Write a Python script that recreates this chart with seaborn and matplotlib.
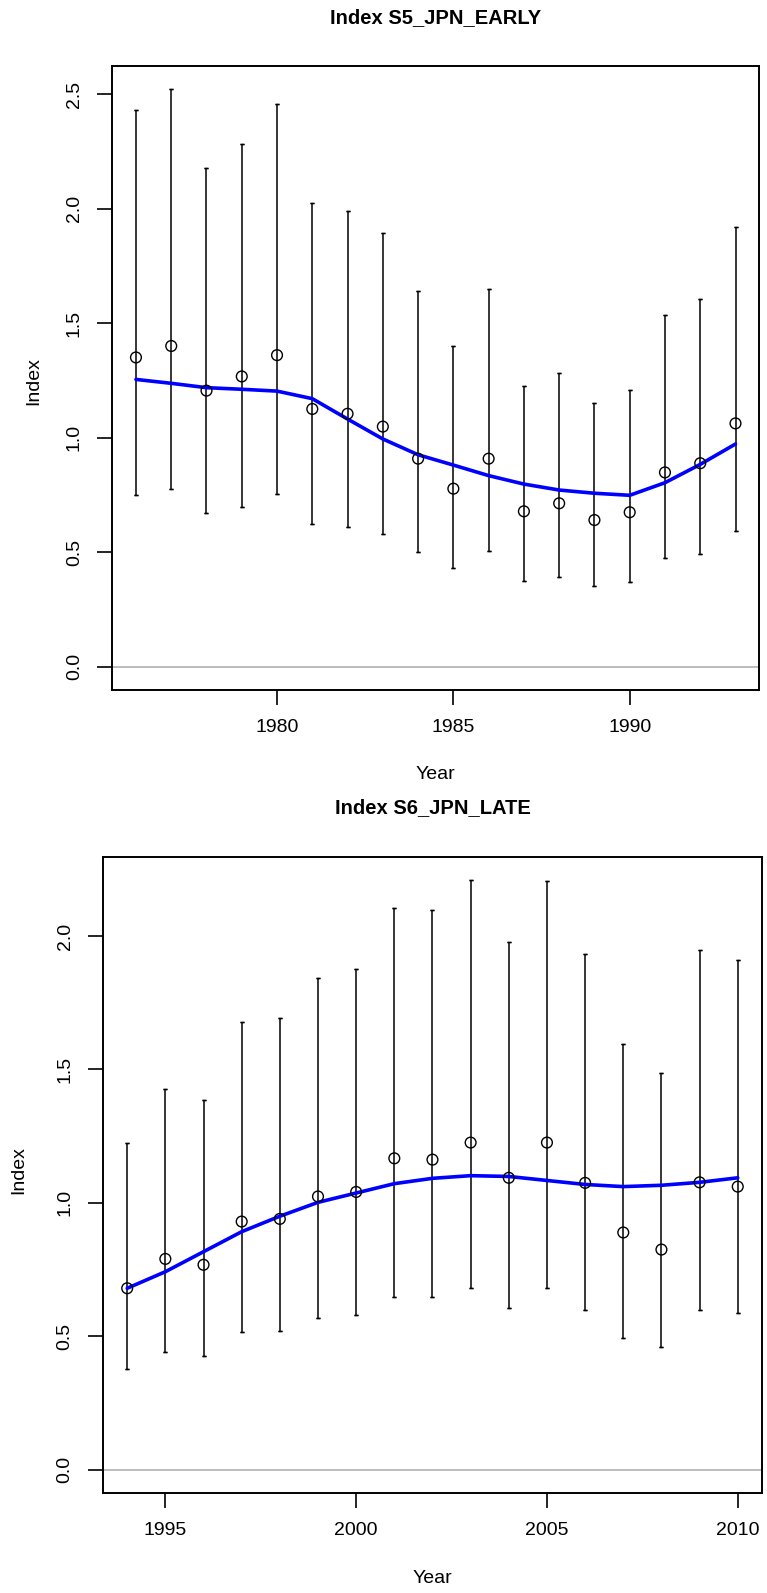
import numpy as np
import pandas as pd
import matplotlib
matplotlib.use("Agg")
import matplotlib.pyplot as plt
import seaborn as sns

# --- S5_JPN_EARLY ---
early_years = list(range(1976, 1994))
early_obs = [1.351, 1.401, 1.206, 1.268, 1.361, 1.126, 1.105, 1.049, 0.909,
             0.778, 0.909, 0.679, 0.714, 0.641, 0.675, 0.849, 0.889, 1.063]
early_lo = [0.750, 0.776, 0.673, 0.699, 0.755, 0.622, 0.612, 0.579, 0.503,
            0.433, 0.507, 0.375, 0.392, 0.353, 0.369, 0.477, 0.491, 0.592]
early_hi = [2.431, 2.523, 2.180, 2.284, 2.456, 2.024, 1.990, 1.893, 1.640,
            1.402, 1.650, 1.226, 1.283, 1.153, 1.210, 1.535, 1.608, 1.922]
early_fit = [1.255, 1.238, 1.219, 1.212, 1.204, 1.171, 1.082, 0.995, 0.926,
             0.881, 0.835, 0.798, 0.772, 0.758, 0.749, 0.804, 0.884, 0.973]

# --- S6_JPN_LATE ---
late_years = list(range(1994, 2011))
late_obs = [0.680, 0.790, 0.768, 0.930, 0.940, 1.024, 1.041, 1.167, 1.162,
            1.226, 1.094, 1.226, 1.075, 0.889, 0.825, 1.077, 1.061]
late_lo = [0.376, 0.440, 0.426, 0.515, 0.520, 0.569, 0.580, 0.646, 0.646,
           0.680, 0.606, 0.680, 0.599, 0.494, 0.459, 0.599, 0.588]
late_hi = [1.226, 1.426, 1.384, 1.677, 1.694, 1.844, 1.877, 2.104, 2.099,
           2.209, 1.977, 2.205, 1.934, 1.597, 1.486, 1.946, 1.909]
late_fit = [0.680, 0.742, 0.817, 0.892, 0.950, 1.002, 1.037, 1.072, 1.092,
            1.102, 1.099, 1.084, 1.069, 1.061, 1.066, 1.077, 1.094]

sns.set_style("white")
plt.rcParams['font.family'] = ['Liberation Sans', 'DejaVu Sans']
plt.rcParams.update({"text.color": "black", "axes.labelcolor": "black",
                     "xtick.color": "black", "ytick.color": "black"})

fig = plt.figure(figsize=(7.67, 15.93), dpi=100)
ax1 = fig.add_axes([0.1460, 0.5669, 0.8442, 0.3917])
ax2 = fig.add_axes([0.1340, 0.0626, 0.8597, 0.3996])


def index_panel(ax, years, obs, lo, hi, fit, title, yticks, xticks):
    df = pd.DataFrame({"Year": years, "obs": obs, "lo": lo, "hi": hi, "fit": fit})
    ax.axhline(0, color="#aaaaaa", lw=1.1, zorder=1)
    ax.vlines(df["Year"], df["lo"], df["hi"], color="black", lw=1.1, zorder=2)
    ax.errorbar(df["Year"], df["lo"], yerr=0, fmt="none", ecolor="black",
                capsize=1.2, capthick=1.0, zorder=2)
    ax.errorbar(df["Year"], df["hi"], yerr=0, fmt="none", ecolor="black",
                capsize=1.2, capthick=1.0, zorder=2)
    sns.lineplot(data=df, x="Year", y="fit", ax=ax, color="#0000ff", lw=2.6,
                 sort=True, zorder=3)
    sns.scatterplot(data=df, x="Year", y="obs", ax=ax, marker="o", s=60,
                    facecolor="none", edgecolor="black", linewidth=1.0, zorder=4)

    span = years[-1] - years[0]
    ax.set_xlim(years[0] - 0.04 * span, years[-1] + 0.04 * span)
    top = max(hi)
    ax.set_ylim(-0.04 * top, top * 1.04)
    ax.set_xticks(xticks)
    ax.set_yticks(yticks)
    ax.set_yticklabels([f"{t:.1f}" for t in yticks], rotation=90, va="center")
    ax.tick_params(axis="both", direction="out", length=11, width=1.2,
                   labelsize=14, color="black", pad=10, left=True, bottom=True)
    for s in ax.spines.values():
        s.set_color("black")
        s.set_linewidth(1.4)

    ax.set_title(title, fontsize=14.5, fontweight="bold", y=1.0, pad=0)
    ax.title.set_position((0.5, 1.078))
    ax.title.set_va("center")
    ax.set_xlabel("Year", fontsize=14)
    ax.set_ylabel("Index", fontsize=14)
    ax.grid(False)


index_panel(ax1, early_years, early_obs, early_lo, early_hi, early_fit,
            "Index S5_JPN_EARLY", [0.0, 0.5, 1.0, 1.5, 2.0, 2.5], [1980, 1985, 1990])
index_panel(ax2, late_years, late_obs, late_lo, late_hi, late_fit,
            "Index S6_JPN_LATE", [0.0, 0.5, 1.0, 1.5, 2.0], [1995, 2000, 2005, 2010])

# axis label placement (axes coordinates)
ax1.xaxis.set_label_coords(0.5, -0.136)
ax1.xaxis.label.set_va("center")
ax1.yaxis.set_label_coords(-0.121, 0.495)
ax1.yaxis.label.set_va("center")
ax2.xaxis.set_label_coords(0.5, -0.134)
ax2.xaxis.label.set_va("center")
ax2.yaxis.set_label_coords(-0.128, 0.508)
ax2.yaxis.label.set_va("center")

fig.savefig("out.png", dpi=100, facecolor="white")
